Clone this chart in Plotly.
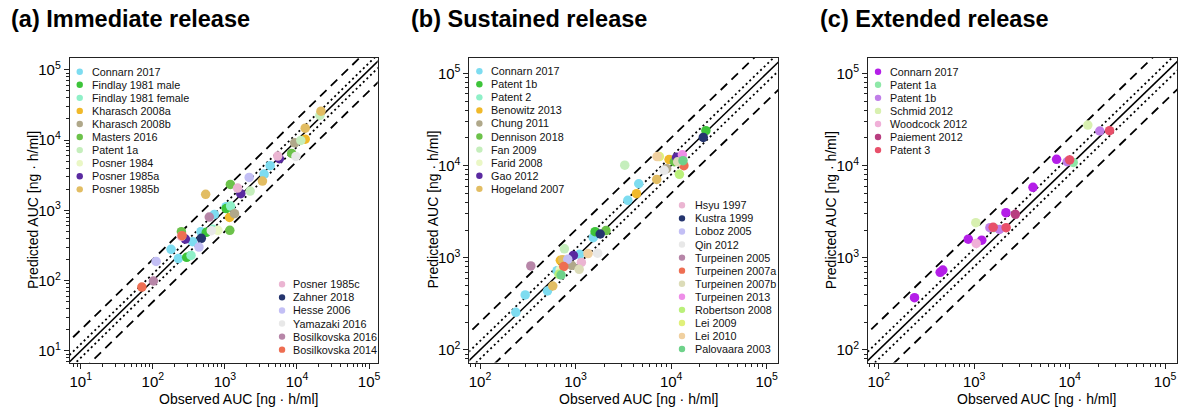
import plotly.graph_objects as go

W, H = 1184, 409
FONT = "Liberation Sans, Arial, sans-serif"

# ---------------- (a) Immediate release ----------------
ir_studies = ["Connarn 2017", "Findlay 1981 male", "Findlay 1981 female", "Kharasch 2008a",
              "Kharasch 2008b", "Masters 2016", "Patent 1a", "Posner 1984", "Posner 1985a",
              "Posner 1985b", "Posner 1985c", "Zahner 2018", "Hesse 2006", "Yamazaki 2016",
              "Bosilkovska 2016", "Bosilkovska 2014"]
ir_obs = [
    [4240, 3500, 1040, 713, 466, 357, 179, 226],
    [1040, 552, 295],
    [1200, 682, 339],
    [13000, 1160],
    [9290, 1360],
    [8440, 1190, 249, 1170],
    [20800, 11300, 2240],
    [800],
    [5700, 1660, 283],
    [21500, 13000, 3320, 541],
    [5410, 1500, 249],
    [471],
    [2170, 437, 111],
    [9680, 647],
    [607, 102],
    [255, 70.5],
]
ir_pred = [
    [4320, 3290, 1130, 877, 498, 359, 279, 206],
    [1060, 487, 215],
    [1150, 537, 229],
    [10300, 794],
    [9160, 898],
    [6460, 2340, 498, 520],
    [22400, 9890, 1880],
    [520],
    [5430, 1730, 391],
    [25800, 14800, 2610, 1690],
    [5930, 2080, 427],
    [400],
    [2940, 301, 188],
    [5860, 514],
    [803, 99],
    [436, 81],
]
ir_colors = ["#7ddcf0", "#3dc43a", "#8ff0c8", "#f0b92a", "#b0a88a", "#6cc24a", "#c5eebc",
             "#eaf7c5", "#5a2aa0", "#e2bd63", "#ebb5d2", "#25356e", "#c3bff5", "#e8e8e8",
             "#b786a8", "#ee6e52"]

# ---------------- (b) Sustained release ----------------
sr_studies = ["Connarn 2017", "Patent 1b", "Patent 2", "Benowitz 2013", "Chung 2011",
              "Dennison 2018", "Fan 2009", "Farid 2008", "Gao 2012", "Hogeland 2007",
              "Hsyu 1997", "Kustra 1999", "Loboz 2005", "Qin 2012", "Turpeinen 2005",
              "Turpeinen 2007a", "Turpeinen 2007b", "Turpeinen 2013", "Robertson 2008",
              "Lei 2009", "Lei 2010", "Palovaara 2003"]
sr_obs = [
    [4580, 3520, 1530, 1100, 640, 508, 297, 237],
    [23100, 1600],
    [802],
    [9510, 4340, 693],
    [8980, 910],
    [10800, 2080],
    [3270, 764],
    [690],
    [11400, 948],
    [7070, 733, 577],
    [1150],
    [21700, 1810],
    [828],
    [8440, 1700],
    [340],
    [13600, 752],
    [11700, 1090],
    [13100],
    [12200, 671],
    [7530],
    [7130, 1350],
    [13300, 705],
]
sr_pred = [
    [6350, 4200, 1650, 1090, 724, 436, 395, 256],
    [23900, 1920],
    [931],
    [11600, 4950, 938],
    [9250, 828],
    [11000, 1970],
    [10100, 1250],
    [740],
    [12300, 1060],
    [7080, 953, 494],
    [891],
    [20200, 1810],
    [962],
    [8870, 1120],
    [815],
    [9970, 802],
    [11000, 750],
    [13100],
    [8040, 661],
    [12500],
    [12500, 1110],
    [11300, 650],
]
sr_colors = ["#7ddcf0", "#3dc43a", "#8ff0c8", "#f0b92a", "#b0a88a", "#6cc24a", "#c5eebc",
             "#eaf7c5", "#5a2aa0", "#e2bd63", "#ebb5d2", "#25356e", "#c3bff5", "#e8e8e8",
             "#b786a8", "#ee6e52", "#dcdcb8", "#ee8ee8", "#baf07a", "#e0f07a", "#f0d0a0",
             "#6ed28a"]

# ---------------- (c) Extended release ----------------
er_studies = ["Connarn 2017", "Patent 1a", "Patent 1b", "Schmid 2012", "Woodcock 2012",
              "Paiement 2012", "Patent 3"]
er_obs = [
    [237, 440, 469, 867, 1200, 2150, 4130, 7300],
    [10900, 1600],
    [20700, 9420, 1460, 1840],
    [15500, 1040],
    [1050],
    [2700],
    [26200, 10000, 1580, 2160],
]
er_pred = [
    [369, 695, 736, 1590, 1550, 3080, 5810, 11700],
    [10800, 2120],
    [23700, 11000, 2120, 2030],
    [27500, 2400],
    [1430],
    [2960],
    [23900, 11500, 2140, 2120],
]
er_colors = ["#b41ee8", "#8ee8a8", "#c07ee8", "#d8f0b0", "#f0b0d8", "#b83e80", "#e8506a"]

# identity line with 1.25-fold (dotted) and 2-fold (dashed) bounds
fold_factors = [1, 1.25, 0.8, 2, 0.5]
fold_dash = ["solid", "2px,3px", "2px,3px", "9px,6px", "9px,6px"]
line_x = [1, 1e6]

# panel geometry in pixels: left, right, top, bottom
panels = [
    dict(box=(69, 378, 57.5, 362.5), xr=(0.848, 5.12), yr=(0.836, 5.175), dec=(1, 5),
         title="(a) Immediate release", tx=8),
    dict(box=(470, 780, 57.5, 362.5), xr=(1.889, 5.122), yr=(1.864, 5.172), dec=(2, 5),
         title="(b) Sustained release", tx=409),
    dict(box=(870, 1180, 57.5, 362.5), xr=(1.888, 5.125), yr=(1.864, 5.172), dec=(2, 5),
         title="(c) Extended release", tx=820),
]
series = [
    (ir_studies, ir_obs, ir_pred, ir_colors),
    (sr_studies, sr_obs, sr_pred, sr_colors),
    (er_studies, er_obs, er_pred, er_colors),
]
# legend blocks: (panel, first index, last index, marker x px, text x px, first y px)
legend_blocks = [
    (0, 0, 10, 79, 89, 71.7),
    (0, 10, 16, 282, 291, 284.3),
    (1, 0, 10, 480, 490, 71.2),
    (1, 10, 22, 683.3, 694, 205.3),
    (2, 0, 7, 880, 890, 71.7),
]
LEG_STEP = 13.07

fig = go.Figure()
annotations = []
shapes = []


def px2paper_x(px):
    return px / W


def px2paper_y(py):
    return 1 - py / H


for i, (p, (names, obs, pred, cols)) in enumerate(zip(panels, series)):
    sfx = "" if i == 0 else str(i + 1)
    xa, ya = "x" + sfx, "y" + sfx
    for k, dsh in zip(fold_factors, fold_dash):
        fig.add_trace(go.Scatter(
            x=line_x, y=[v * k for v in line_x], mode="lines",
            line=dict(color="black", width=1.8 if k != 1 else 1.5, dash=dsh),
            xaxis=xa, yaxis=ya, showlegend=False, hoverinfo="skip"))
    for name, xo, yp, c in zip(names, obs, pred, cols):
        fig.add_trace(go.Scatter(
            x=xo, y=yp, mode="markers", name=name,
            marker=dict(color=c, size=9.5, line=dict(width=0)),
            xaxis=xa, yaxis=ya, showlegend=False))

    l, r, t, b = p["box"]
    d0, d1 = p["dec"]
    decades = list(range(d0, d1 + 1))
    major = [10 ** d for d in decades]
    labels = ["10<sup>%d</sup>" % d for d in decades]
    minor = [m * 10 ** d for d in range(d0 - 1, d1 + 1) for m in range(2, 10)]
    axis_common = dict(
        type="log", showline=True, linecolor="#222", linewidth=1, mirror=True,
        ticks="outside", ticklen=5, tickwidth=1, tickcolor="#222",
        tickmode="array", tickvals=major, ticktext=labels,
        minor=dict(tickvals=minor, ticks="outside", ticklen=3, tickwidth=1, tickcolor="#222"),
        showgrid=False, zeroline=False,
        tickfont=dict(family=FONT, size=15, color="black"),
    )
    fig.update_layout({
        "xaxis" + sfx: dict(axis_common, domain=[px2paper_x(l), px2paper_x(r)],
                            range=list(p["xr"]), anchor=ya),
        "yaxis" + sfx: dict(axis_common, domain=[px2paper_y(b), px2paper_y(t)],
                            range=list(p["yr"]), anchor=xa),
    })

    annotations.append(dict(
        text="<b>%s</b>" % p["title"], x=px2paper_x(p["tx"]), y=px2paper_y(19),
        xref="paper", yref="paper", xanchor="left", yanchor="middle", showarrow=False,
        font=dict(family=FONT, size=23.5, color="black")))
    annotations.append(dict(
        text="Observed AUC [ng · h/ml]", x=px2paper_x((l + r) / 2 + 15), y=px2paper_y(399),
        xref="paper", yref="paper", xanchor="center", yanchor="middle", showarrow=False,
        font=dict(family=FONT, size=14, color="black")))
    annotations.append(dict(
        text="Predicted AUC [ng · h/ml]", x=px2paper_x(l - 37), y=px2paper_y((t + b) / 2),
        xref="paper", yref="paper", xanchor="center", yanchor="middle", showarrow=False,
        textangle=-90, font=dict(family=FONT, size=14, color="black")))

for pi, i0, i1, mx, tx, y0 in legend_blocks:
    names, _, _, cols = series[pi]
    for j, idx in enumerate(range(i0, i1)):
        yy = y0 + j * LEG_STEP
        shapes.append(dict(
            type="circle", xref="paper", yref="paper", xsizemode="pixel", ysizemode="pixel",
            xanchor=px2paper_x(mx), yanchor=px2paper_y(yy), x0=-3.2, x1=3.2, y0=-3.2, y1=3.2,
            fillcolor=cols[idx], line=dict(width=0)))
        annotations.append(dict(
            text=names[idx], x=px2paper_x(tx), y=px2paper_y(yy), xref="paper", yref="paper",
            xanchor="left", yanchor="middle", showarrow=False,
            font=dict(family=FONT, size=10.8, color="#111")))

fig.update_layout(
    width=W, height=H, margin=dict(l=0, r=0, t=0, b=0),
    paper_bgcolor="white", plot_bgcolor="white",
    showlegend=False, annotations=annotations, shapes=shapes,
)

fig.write_html("out.html")
